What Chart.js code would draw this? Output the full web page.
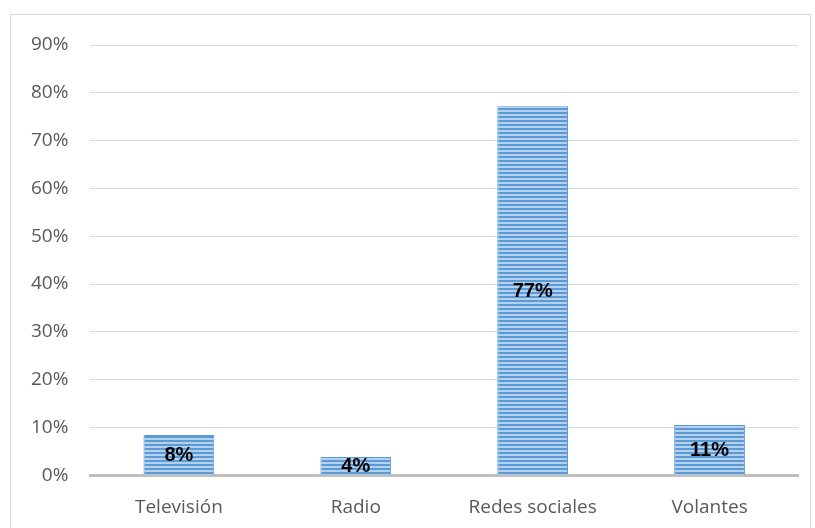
<!DOCTYPE html>
<html><head><meta charset="utf-8">
<script src="https://cdn.jsdelivr.net/npm/chart.js@4/dist/chart.umd.min.js"></script>
<style>
html,body{margin:0;padding:0;background:#fff;overflow:hidden;}
#wrap{position:absolute;left:0;top:0;width:815px;height:528px;overflow:hidden;}
#frame{position:absolute;left:10px;top:14px;width:801px;height:530px;border:1px solid #D9D9D9;box-sizing:border-box;}
canvas{position:absolute;left:0;top:0;}
</style></head>
<body>
<div id="wrap"><div id="frame"></div><canvas id="c" width="815" height="552"></canvas></div>
<script>
const categories = ["Televisión", "Radio", "Redes sociales", "Volantes"];
const values = [8.4, 3.8, 77.2, 10.5];
const valueLabels = ["8%", "4%", "77%", "11%"];
const yTicks = [0, 10, 20, 30, 40, 50, 60, 70, 80, 90];

function makePattern(){
  const p = document.createElement('canvas');
  p.width = 4; p.height = 4;
  const g = p.getContext('2d');
  g.fillStyle = '#B4D0EC'; g.fillRect(0,0,4,4);
  g.fillStyle = '#5B9BD5'; g.fillRect(0,0,4,2);
  return document.getElementById('c').getContext('2d').createPattern(p,'repeat');
}

const labelPlugin = {
  id:'barLabels',
  afterDatasetsDraw(chart){
    const ctx = chart.ctx;
    const meta = chart.getDatasetMeta(0);
    ctx.save();
    ctx.font = 'bold 20px "Liberation Sans", Arial, sans-serif';
    ctx.fillStyle = '#000';
    ctx.textAlign = 'center';
    ctx.textBaseline = 'middle';
    meta.data.forEach((bar,i)=>{
      const y = (bar.y + bar.base)/2;
      ctx.fillText(valueLabels[i], bar.x, y+1);
    });
    ctx.restore();
  }
};

new Chart(document.getElementById('c'), {
  type:'bar',
  data:{labels:categories, datasets:[{data:values, backgroundColor:makePattern(), borderColor:'#5B9BD5', borderWidth:1, categoryPercentage:1, barPercentage:0.4}]},
  options:{
    responsive:false, animation:false,
    layout:{padding:{left:9,right:17,top:45,bottom:12}},
    plugins:{legend:{display:false}, tooltip:{enabled:false}},
    scales:{
      x:{grid:{display:false, drawTicks:false}, border:{color:'#BFBFBF', width:3},
         ticks:{color:'#595959', font:{family:'"Open Sans", Calibri, sans-serif', size:19}, padding:21}},
      y:{min:0, max:90, afterBuildTicks(ax){ax.ticks = yTicks.map(v=>({value:v}));},
         grid:{color:'#D9D9D9', drawTicks:false}, border:{display:false},
         ticks:{color:'#595959', font:{family:'"Open Sans", Calibri, sans-serif', size:19}, padding:22, callback:v=>v+'%'}}
    }
  },
  plugins:[labelPlugin]
});
</script>
</body></html>
